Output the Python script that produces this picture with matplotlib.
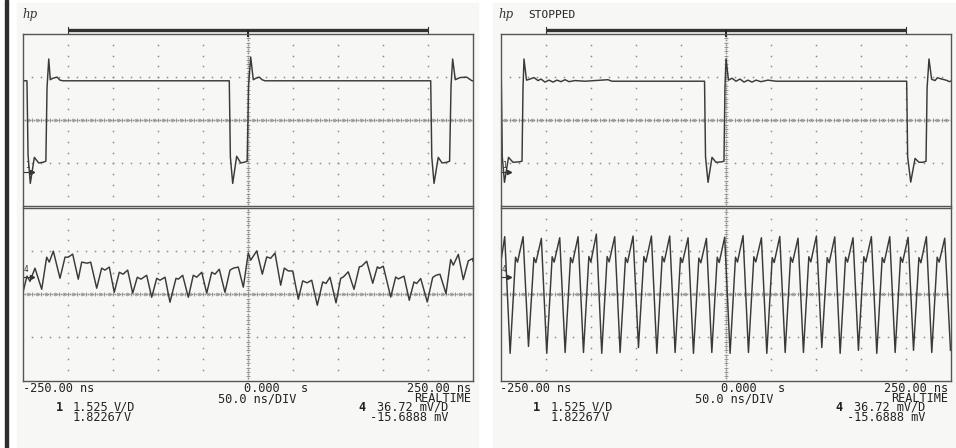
import numpy as np
import matplotlib
matplotlib.use('Agg')
import matplotlib.pyplot as plt
from matplotlib.patches import Rectangle

W, H = 956, 448

# time in ns, level in screen divisions (each panel spans -4..4)
# --- left capture, channel 1 (top)
ch1_left_t = [-250, -245.6, -244.4, -241.9, -237.4, -232.6, -227.8, -224.6, -223.3, -221.4,
              -219.7, -216.7, -212.2, -208.9, -205.6, -20.8, -19.6, -17.0, -12.6, -8.1,
              -4.4, -0.9, 0.6, 3.0, 5.9, 8.9, 12.6, 15.6, 18.9, 203.0,
              204.2, 206.7, 211.4, 215.6, 220.8, 224.0, 225.6, 227.4, 230.3, 235.6,
              242.9, 248.9, 250]
ch1_left_v = [1.83, 1.83, -1.6, -2.93, -1.72, -1.98, -1.95, -1.9, 1.5, 2.84,
              1.88, 1.95, 2.0, 1.86, 1.83, 1.83, -1.7, -2.93, -1.67, -1.98,
              -1.95, -1.9, 1.6, 2.93, 1.88, 1.95, 2.0, 1.88, 1.83, 1.83,
              -1.7, -2.93, -1.72, -1.98, -1.95, -1.9, 1.6, 2.84, 1.88, 1.98,
              2.0, 1.83, 1.83]

# --- left capture, channel 4 (bottom)
ch4_left_t = [-250.0, -245.6, -242.2, -236.7, -229.2, -223.7, -220.8, -216.3, -208.9, -203.3,
              -199.7, -194.8, -188.6, -184.8, -178.6, -174.8, -168.1, -162.6, -158.9, -154.1,
              -148.6, -143.0, -138.9, -133.7, -128.1, -123.0, -118.9, -112.6, -107.0, -101.4,
              -97.8, -92.2, -86.7, -80.0, -77.4, -72.6, -66.3, -60.8, -57.0, -51.4,
              -45.9, -40.3, -36.7, -31.9, -25.6, -20.0, -16.3, -10.8, -5.2, 0.3,
              3.0, 9.7, 15.9, 20.8, 25.2, 30.0, 36.3, 40.3, 44.8, 49.7,
              55.9, 60.8, 65.6, 70.8, 77.0, 83.0, 86.7, 91.1, 97.8, 103.0,
              105.9, 111.4, 117.8, 123.7, 126.3, 131.9, 138.6, 143.7, 145.9, 150.3,
              158.6, 164.1, 167.0, 173.3, 179.2, 184.4, 187.4, 191.9, 199.2, 205.2,
              208.9, 213.3, 220.0, 225.2, 228.1, 233.7, 239.2, 244.8, 249.7, 250.0]
ch4_left_v = [0.09, 0.84, 0.60, 1.21, 0.23, 1.72, 1.49, 2.00, 0.74, 1.72,
              1.72, 1.86, 0.70, 1.49, 1.44, 1.49, 0.28, 1.21, 1.12, 1.26,
              0.09, 1.02, 0.93, 1.12, 0.05, 0.79, 0.70, 0.88, -0.14, 0.74,
              0.65, 0.79, -0.37, 0.74, 0.70, 0.88, -0.14, 0.88, 0.79, 1.02,
              0.05, 1.02, 0.93, 1.16, 0.09, 1.12, 1.21, 1.26, 0.33, 1.91,
              1.58, 2.01, 0.93, 1.73, 1.67, 1.91, 0.42, 1.21, 1.08, 1.08,
              -0.23, 0.62, 0.53, 0.65, -0.51, 0.57, 0.50, 0.79, -0.40, 0.74,
              0.80, 1.04, 0.23, 1.27, 1.30, 1.53, 0.51, 1.27, 1.20, 1.30,
              -0.13, 0.80, 0.71, 0.84, -0.28, 0.57, 0.50, 0.73, -0.36, 0.78,
              0.88, 0.93, 0.03, 1.61, 1.35, 1.85, 0.68, 1.55, 1.66, 1.53]

# --- right capture, channel 1 (top)
ch1_right_t = [-250, -249.1, -248.0, -245.6, -241.1, -236.1, -229.4, -226.1, -225.0, -223.9,
               -221.1, -217.2, -212.8, -208.3, -205.0, -200.6, -196.1, -191.7, -187.2, -182.8,
               -178.3, -173.9, -167.2, -156.1, -130.6, -126.1, -23.3, -22.2, -19.4, -15.0,
               -10.6, -4.4, -1.7, -0.6, 0.6, 3.3, 7.2, 11.7, 16.1, 20.6,
               25.0, 29.4, 33.9, 39.4, 47.2, 56.1, 201.3, 202.4, 205.8, 210.6,
               215.0, 219.4, 222.8, 224.0, 226.1, 229.0, 232.8, 235.4, 240.3, 245.0,
               248.9, 250]
ch1_right_v = [1.83, 1.83, -1.7, -2.88, -1.72, -1.95, -1.93, -1.9, 1.5, 2.84,
               1.86, 1.91, 1.98, 1.84, 1.91, 1.77, 1.86, 1.77, 1.86, 1.79,
               1.88, 1.79, 1.84, 1.81, 1.88, 1.81, 1.81, -1.7, -2.88, -1.72,
               -1.95, -1.93, -1.9, 1.5, 2.84, 1.86, 1.95, 1.81, 1.91, 1.77,
               1.86, 1.77, 1.86, 1.79, 1.86, 1.81, 1.81, -1.7, -2.87, -1.77,
               -1.95, -1.95, -1.9, 1.5, 2.84, 1.90, 1.84, 1.97, 1.91, 1.86,
               1.79, 1.81]

# --- right capture, channel 4 (bottom): peak, trough, shoulder, dip per cycle
ch4_right_t = [-250.0,
               -245.3, -239.3, -233.3, -231.1, -224.9, -218.9, -212.9, -210.7,
               -204.6, -198.6, -192.6, -190.4, -184.2, -178.2, -172.2, -170.0,
               -163.8, -157.8, -151.8, -149.6, -143.5, -137.5, -131.5, -129.3,
               -123.1, -117.1, -111.1, -108.9, -102.7, -96.7, -90.7, -88.5,
               -82.3, -76.3, -70.3, -68.1, -62.0, -56.0, -50.0, -47.8,
               -41.6, -35.6, -29.6, -27.4, -21.2, -15.2, -9.2, -7.0,
               -0.9, 5.1, 11.1, 13.3, 19.5, 25.5, 31.5, 33.7,
               39.9, 45.9, 51.9, 54.1, 60.3, 66.3, 72.3, 74.5,
               80.6, 86.6, 92.6, 94.8, 101.0, 107.0, 113.0, 115.2,
               121.4, 127.4, 133.4, 135.6, 141.7, 147.7, 153.7, 155.9,
               162.1, 168.1, 174.1, 176.3, 182.5, 188.5, 194.5, 196.7,
               202.9, 208.9, 214.9, 217.1, 223.2, 229.2, 235.2, 237.4,
               243.6, 250.0]
ch4_right_v = [1.40,
               2.67, -2.74, 1.72, 1.49, 2.67, -2.42, 1.70, 1.47,
               2.59, -2.74, 1.74, 1.49, 2.62, -2.70, 1.70, 1.46,
               2.67, -2.70, 1.75, 1.50, 2.79, -2.74, 1.75, 1.50,
               2.67, -2.70, 1.70, 1.47, 2.70, -2.47, 1.75, 1.49,
               2.70, -2.74, 1.75, 1.50, 2.70, -2.70, 1.70, 1.48,
               2.62, -2.74, 1.68, 1.46, 2.59, -2.70, 1.72, 1.47,
               2.65, -2.74, 1.72, 1.49, 2.72, -2.70, 1.74, 1.50,
               2.62, -2.74, 1.70, 1.47, 2.68, -2.70, 1.72, 1.48,
               2.60, -2.70, 1.74, 1.50, 2.70, -2.47, 1.70, 1.46,
               2.66, -2.74, 1.72, 1.49, 2.62, -2.60, 1.74, 1.50,
               2.67, -2.74, 1.70, 1.47, 2.67, -2.70, 1.72, 1.48,
               2.64, -2.60, 1.70, 1.46, 2.67, -2.70, 1.72, 1.49,
               2.60, -2.60]

timebase = ['-250.00 ns', '0.000   s', '50.0 ns/DIV', '250.00 ns', 'REALTIME']
ch1_setup = ['1.525', 'V/D', '1.82267', 'V']
ch4_setup = ['36.72 mV/D', '-15.6888 mV']

TRACE = '#3a3a3a'
GRID = '#8c8c8c'
FONT = 'DejaVu Sans Mono'

fig = plt.figure(figsize=(W / 100, H / 100), dpi=100)
fig.patch.set_facecolor('white')

bg = fig.add_axes([0, 0, 1, 1])
bg.set_xlim(0, W)
bg.set_ylim(H, 0)
bg.axis('off')
bg.add_patch(Rectangle((5.5, 0), 2.5, H, color='#2e2e2e'))


def px_axes(x0, y0, x1, y1):
    return fig.add_axes([x0 / W, 1 - y1 / H, (x1 - x0) / W, (y1 - y0) / H])


def draw_grid(ax):
    ax.set_xlim(-250, 250)
    ax.set_ylim(-4, 4)
    ax.set_xticks([])
    ax.set_yticks([])
    ax.patch.set_alpha(0)
    for s in ax.spines.values():
        s.set_color('#555555')
        s.set_linewidth(1.0)
    dot = dict(ls='none', marker='s', ms=1.1, mew=0, color=GRID)
    ys = np.arange(-3.5, 3.75, 0.5)
    for t in [-200, -150, -100, -50, 50, 100, 150, 200]:
        ax.plot(np.full(len(ys), t), ys, **dot)
    xs = np.arange(-240, 250, 10)
    for y in (-2, 2):
        ax.plot(xs, np.full(len(xs), y), **dot)
    xs = np.arange(-250, 251, 2.5)
    ax.plot(xs, np.zeros(len(xs)), **dot)
    ax.plot(np.arange(-240, 250, 10), np.zeros(49), ls='none', marker='|',
            ms=3, mew=0.6, color=GRID)
    ax.plot(np.arange(-245, 250, 10), np.zeros(50), ls='none', marker='o',
            ms=2, mew=0.5, mfc='none', color=GRID)
    ys = np.arange(-4, 4.01, 0.1)
    ax.plot(np.zeros(len(ys)), ys, **dot)
    ax.plot(np.zeros(39), np.arange(-3.8, 3.85, 0.2), ls='none', marker='_',
            ms=3, mew=0.6, color=GRID)


screens = [
    (17, 478, 23, 473, ch1_left_t, ch1_left_v, ch4_left_t, ch4_left_v, False),
    (493, 956, 500.5, 950.5, ch1_right_t, ch1_right_v, ch4_right_t, ch4_right_v, True),
]

for sx0, sx1, x0, x1, t1, v1, t4, v4, stopped in screens:
    bg.add_patch(Rectangle((sx0, 3), sx1 - sx0, 444, color='#f7f7f5'))
    xc = (x0 + x1) / 2
    top = px_axes(x0, 34, x1, 206.5)
    bot = px_axes(x0, 208, x1, 380.5)
    for ax in (top, bot):
        draw_grid(ax)
    top.plot(t1, v1, color=TRACE, lw=1.05)
    bot.plot(t4, v4, color=TRACE, lw=1.05)

    # memory bar and trigger mark
    top.plot([-200, 200], [4.2, 4.2], color='#333333', lw=2.4, clip_on=False,
             solid_capstyle='butt')
    for t in (-200, 200):
        top.plot([t, t], [4.06, 4.32], color='#333333', lw=0.8, clip_on=False)
    top.plot([0, 0], [3.9, 4.12], color='#222222', lw=1.4, clip_on=False)

    # ground markers
    bg.text(x0 + 4, 166, '1', fontsize=5.5, family=FONT, ha='center', va='center',
            color='#333333')
    bg.plot([x0 + 1, x0 + 9], [172.5, 172.5], color='#333333', lw=0.8)
    bg.plot([x0 + 9], [172.5], marker='>', ms=3, color='#333333')
    bg.text(x0 + 3, 269, '4', fontsize=5.5, family=FONT, ha='center', va='center',
            color='#333333')
    bg.plot([x0 + 1, x0 + 9], [277, 277], color='#333333', lw=0.8)
    bg.plot([x0 + 9], [277], marker='>', ms=3, color='#333333')

    # header
    bg.text(sx0 + 5, 14.5, 'hp', fontsize=8.5, family='DejaVu Serif', style='italic',
            ha='left', va='center', color='#333333')
    if stopped:
        bg.text(sx0 + 35, 14.5, 'STOPPED', fontsize=8, family=FONT, ha='left',
                va='center', color='#222222')

    # time base readout
    tk = dict(fontsize=8.6, family=FONT, va='center', color='#222222')
    bg.text(x0, 388.5, timebase[0], ha='left', **tk)
    bg.text(xc - 4, 388.5, timebase[1], ha='left', **tk)
    bg.text(xc + 9, 398.5, timebase[2], ha='center', **tk)
    bg.text(x1 - 2, 388.5, timebase[3], ha='right', **tk)
    bg.text(x1 - 2, 398.5, timebase[4], ha='right', **tk)

    # channel setup readout
    bg.text(x0 + 36, 407.5, '1', ha='center', fontweight='bold', **tk)
    bg.text(x0 + 50, 407.5, ch1_setup[0], ha='left', **tk)
    bg.text(x0 + 91, 407.5, ch1_setup[1], ha='left', **tk)
    bg.text(x0 + 50, 417.5, ch1_setup[2], ha='left', **tk)
    bg.text(x0 + 101, 417.5, ch1_setup[3], ha='left', **tk)
    bg.text(x0 + 339, 407.5, '4', ha='center', fontweight='bold', **tk)
    bg.text(x0 + 425, 407.5, ch4_setup[0], ha='right', **tk)
    bg.text(x0 + 425, 417.5, ch4_setup[1], ha='right', **tk)

fig.savefig('out.png', dpi=100, facecolor='white')
